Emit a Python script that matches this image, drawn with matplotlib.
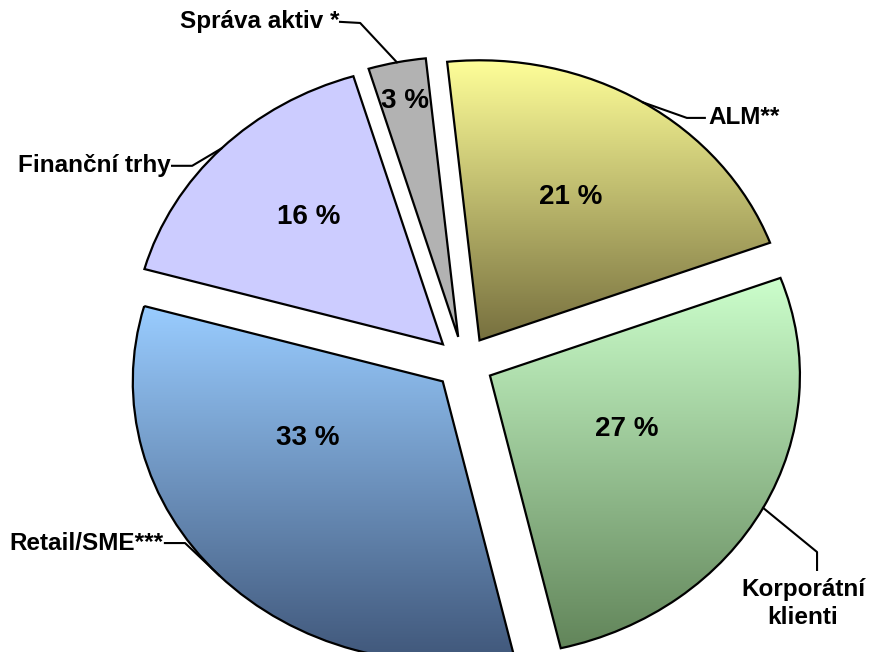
import numpy as np
import matplotlib
matplotlib.use("Agg")
import matplotlib.pyplot as plt
from matplotlib.colors import LinearSegmentedColormap

# data
labels = ['ALM**', 'Korporátní\nklienti', 'Retail/SME***', 'Finanční trhy', 'Správa aktiv *']
shares = [21, 27, 33, 16, 3]
top_colors = ['#FFFF99', '#CCFFCC', '#99CCFF', '#CCCCFF', '#B2B2B2']
bottom_colors = ['#77703F', '#62855A', '#40577A', '#CCCCFF', '#B2B2B2']

plt.rcParams['font.family'] = ['Liberation Sans', 'DejaVu Sans']
plt.rcParams['font.weight'] = 'bold'

fig = plt.figure(figsize=(8.84, 6.52), dpi=100)
ax = fig.add_axes([0, 0, 1, 1])

wedges, _ = ax.pie(shares, startangle=96, counterclock=False,
                   explode=[0.095] * len(shares), colors=top_colors,
                   wedgeprops=dict(edgecolor='black', linewidth=1.6))

# gradient fill for the first three slices
for w, c0, c1 in zip(wedges, top_colors, bottom_colors):
    if c0 == c1:
        continue
    bb = w.get_path().get_extents()
    cmap = LinearSegmentedColormap.from_list('g', [c1, c0])
    grad = np.linspace(0, 1, 256).reshape(-1, 1)
    im = ax.imshow(grad, cmap=cmap, origin='lower', aspect='auto',
                   extent=(bb.x0, bb.x1, bb.y0, bb.y1), zorder=w.get_zorder() - 0.1)
    im.set_clip_path(w)
    w.set_facecolor('none')

# percentage labels
pct_r = [0.59, 0.48, 0.48, 0.63, 0.86]
pct_shift = [2, 5, -19, -2, 0]
for w, s, r, d in zip(wedges, shares, pct_r, pct_shift):
    a = np.radians((w.theta1 + w.theta2) / 2 + d)
    cx, cy = w.center
    ax.text(cx + r * np.cos(a), cy + r * np.sin(a), f'{s} %', ha='center', va='center',
            fontsize=20, fontweight='bold', zorder=5)

# outer labels with leader lines
elbows = [(0.719, 0.875), (1.139, -0.675), (-0.90, -0.643), (-0.877, 0.704), (-0.335, 1.214)]
ends = [(0.777, 0.875), (1.139, -0.739), (-0.965, -0.643), (-0.942, 0.704), (-0.40, 1.218)]
text_pos = [(0.787, 0.875, 'left', 'center'), (1.094, -0.768, 'center', 'top'),
            (-0.968, -0.643, 'right', 'center'), (-0.945, 0.704, 'right', 'center'),
            (-0.403, 1.218, 'right', 'center')]
for w, lab, el, en, tp in zip(wedges, labels, elbows, ends, text_pos):
    a = np.radians((w.theta1 + w.theta2) / 2)
    cx, cy = w.center
    ax.plot([cx + np.cos(a), el[0], en[0]], [cy + np.sin(a), el[1], en[1]],
            color='black', lw=1.5, zorder=6)
    ax.text(tp[0], tp[1], lab, ha=tp[2], va=tp[3], fontsize=17.5,
            fontweight='bold', linespacing=1.25, multialignment='center')

ax.set_xlim(-1.497, 1.355)
ax.set_ylim(-1.032, 1.296)
ax.set_aspect('auto')
ax.axis('off')

fig.savefig('out.png', dpi=100)
